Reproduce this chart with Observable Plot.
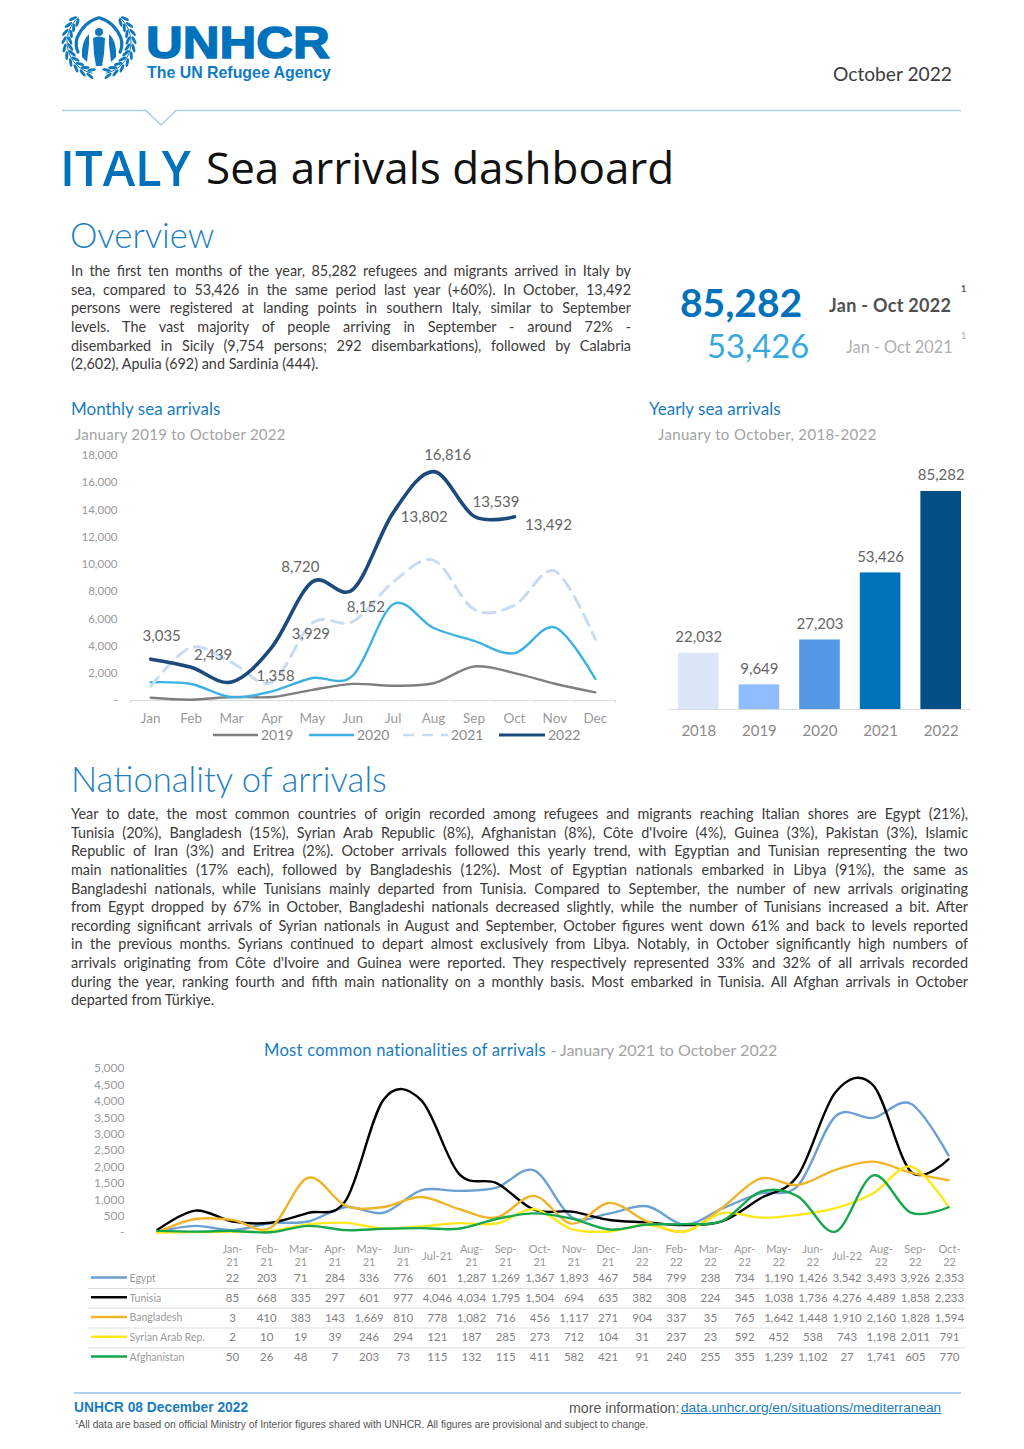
<!DOCTYPE html>
<html lang="en"><head><meta charset="utf-8">
<script src="https://cdn.jsdelivr.net/npm/d3@7"></script>
<script src="https://cdn.jsdelivr.net/npm/@observablehq/plot@0.6"></script>
<style>
html,body{margin:0;padding:0;background:#fff}
#page{position:relative;width:1024px;height:1449px;overflow:hidden;font-family:Lato,sans-serif;color:#3b3b3b}
.a{position:absolute;white-space:nowrap;line-height:1}
.h2{font-weight:300;font-size:34.7px;color:#1f7fbf}
.sub{font-size:17px;color:#1a7cc0}
.sub2{font-size:15px;letter-spacing:.25px;color:#a3a3a3}
.para{position:absolute;font-size:14.4px}
.para div{height:18.65px;line-height:18.65px;text-align:justify;text-align-last:justify;overflow:hidden}
.para div:last-child{text-align-last:left}
.chart{position:absolute}
.chart svg{display:block;overflow:visible}
.leg{position:absolute;top:728px;font-size:14px;color:#8a8a8a;line-height:14px}
.leg svg{position:absolute;left:0;top:6px;overflow:visible}
.leg span{position:absolute}
</style></head><body><div id="page">
<svg id="emblem" class="a" style="left:58px;top:10px" width="84" height="74" viewBox="0 0 84 74"></svg>
<div class="a" style="left:146px;top:25px;font:bold 45px 'Liberation Sans';color:#0072bc;-webkit-text-stroke:1.5px #0072bc;transform:scaleX(1.13);transform-origin:left top;line-height:36px">UNHCR</div>
<div class="a" style="left:147px;top:65px;font:bold 15.9px 'Liberation Sans';color:#0f7cc2;line-height:16px">The UN Refugee Agency</div>
<div class="a" style="left:833px;top:64px;font-size:19.2px;color:#3c3c3c">October 2022</div>
<svg class="a" style="left:0;top:100px" width="1024" height="30"><path d="M62 10.5H146L161 25L176 10.5H961" fill="none" stroke="#a9cfe6" stroke-width="1.6"/></svg>
<div class="a" style="left:60px;top:140px;font-family:'Open Sans';font-weight:600;font-size:49px;line-height:54px;color:#0072bc">ITALY</div>
<div class="a" style="left:206px;top:140px;font-family:'Open Sans';font-size:44px;line-height:54px;color:#111">Sea arrivals dashboard</div>
<div class="a h2" style="left:70px;top:218px">Overview</div>
<div class="para" id="p1" style="left:71px;top:262px;width:560px"></div>
<div class="a" style="left:680px;top:283px;font-size:39px;font-weight:700;color:#0072bc">85,282</div>
<div class="a" style="left:707px;top:330px;font-size:32.7px;color:#36a9de">53,426</div>
<div class="a" style="left:829px;top:296px;font-size:18px;letter-spacing:.3px;font-weight:700;color:#505050">Jan - Oct 2022</div>
<div class="a" style="left:846px;top:339px;font-size:16.3px;color:#b0b0b0">Jan - Oct 2021</div>
<div class="a" style="left:961px;top:284px;font-size:9px;font-weight:700;color:#555">1</div>
<div class="a" style="left:961px;top:331px;font-size:9px;color:#aaa">1</div>
<div class="a sub" style="left:71px;top:400px">Monthly sea arrivals</div>
<div class="a sub2" style="left:75px;top:427px">January 2019 to October 2022</div>
<div class="a sub" style="left:649px;top:400px">Yearly sea arrivals</div>
<div class="a sub2" style="left:658px;top:427px;letter-spacing:.35px">January to October, 2018-2022</div>
<div class="chart" id="monthly" style="left:60px;top:445px"></div>
<div class="chart" id="yearly" style="left:640px;top:470px"></div>
<div id="legend"></div>
<div class="a h2" style="left:71px;top:762px">Nationality of arrivals</div>
<div class="para" id="p2" style="left:71px;top:805px;width:897px"></div>
<div class="a" style="left:264px;top:1042px;font-size:16.6px;letter-spacing:.25px;color:#1a7cc0">Most common nationalities of arrivals <span style="color:#a3a3a3;font-size:16px;letter-spacing:0">- January 2021 to October 2022</span></div>
<div class="chart" id="natl" style="left:60px;top:1060px"></div>
<div class="chart" id="swatches" style="left:91px;top:1240px"></div>
<div class="chart" id="table" style="left:88px;top:1240px"></div>
<svg class="a" style="left:0;top:1390px" width="1024" height="6"><line x1="74" x2="961" y1="3" y2="3" stroke="#93c3e2" stroke-width="1.5"/></svg>
<div class="a" style="left:74px;top:1400px;font:bold 13.8px 'Liberation Sans';color:#1a7cc0">UNHCR 08 December 2022</div>
<div class="a" style="left:569px;top:1400px;font:14.2px 'Liberation Sans';color:#555">more information:</div>
<div class="a" style="left:681px;top:1400px;font:13.7px 'Liberation Sans';color:#1a7cc0;text-decoration:underline">data.unhcr.org/en/situations/mediterranean</div>
<div class="a" style="left:75px;top:1419px;font:10.3px 'Liberation Sans';color:#555"><sup style="font-size:6px">1</sup>All data are based on official Ministry of Interior figures shared with UNHCR. All figures are provisional and subject to change.</div>
</div>
<script>
// ---------- text ----------
const overviewLines = [
"In the first ten months of the year, 85,282 refugees and migrants arrived in Italy by",
"sea, compared to 53,426 in the same period last year (+60%). In October, 13,492",
"persons were registered at landing points in southern Italy, similar to September",
"levels. The vast majority of people arriving in September - around 72% -",
"disembarked in Sicily (9,754 persons; 292 disembarkations), followed by Calabria",
"(2,602), Apulia (692) and Sardinia (444)."];
const nationalityLines = [
"Year to date, the most common countries of origin recorded among refugees and migrants reaching Italian shores are Egypt (21%),",
"Tunisia (20%), Bangladesh (15%), Syrian Arab Republic (8%), Afghanistan (8%), Côte d'Ivoire (4%), Guinea (3%), Pakistan (3%), Islamic",
"Republic of Iran (3%) and Eritrea (2%). October arrivals followed this yearly trend, with Egyptian and Tunisian representing the two",
"main nationalities (17% each), followed by Bangladeshis (12%). Most of Egyptian nationals embarked in Libya (91%), the same as",
"Bangladeshi nationals, while Tunisians mainly departed from Tunisia. Compared to September, the number of new arrivals originating",
"from Egypt dropped by 67% in October, Bangladeshi nationals decreased slightly, while the number of Tunisians increased a bit. After",
"recording significant arrivals of Syrian nationals in August and September, October figures went down 61% and back to levels reported",
"in the previous months. Syrians continued to depart almost exclusively from Libya. Notably, in October significantly high numbers of",
"arrivals originating from Côte d'Ivoire and Guinea were reported. They respectively represented 33% and 32% of all arrivals recorded",
"during the year, ranking fourth and fifth main nationality on a monthly basis. Most embarked in Tunisia. All Afghan arrivals in October",
"departed from Türkiye."];

// ---------- monthly sea arrivals ----------
const months = ["Jan","Feb","Mar","Apr","May","Jun","Jul","Aug","Sep","Oct","Nov","Dec"];
const arrivals2019 = [202,60,262,255,782,1218,1088,1268,2498,2016,1232,600];
const arrivals2020 = [1342,1211,241,671,1654,1831,7067,5326,4387,3477,5368,1587];
const arrivals2021 = [1039,3900,2800,1350,5700,5800,8700,10300,6700,7000,9500,4500];
const arrivals2022 = [3035,2439,1358,3929,8720,8152,13802,16816,13539,13492];
const monthlyYears = ["2019","2020","2021","2022"];

// ---------- yearly sea arrivals ----------
const years = ["2018","2019","2020","2021","2022"];
const yearTotals = [22032,9649,27203,53426,85282];

// ---------- nationalities ----------
const periods = ["Jan-21","Feb-21","Mar-21","Apr-21","May-21","Jun-21","Jul-21","Aug-21","Sep-21","Oct-21","Nov-21","Dec-21","Jan-22","Feb-22","Mar-22","Apr-22","May-22","Jun-22","Jul-22","Aug-22","Sep-22","Oct-22"];
const natNames = ["Egypt","Tunisia","Bangladesh","Syrian Arab Rep.","Afghanistan"];
const egypt = [22,203,71,284,336,776,601,1287,1269,1367,1893,467,584,799,238,734,1190,1426,3542,3493,3926,2353];
const tunisia = [85,668,335,297,601,977,4046,4034,1795,1504,694,635,382,308,224,345,1038,1736,4276,4489,1858,2233];
const bangladesh = [3,410,383,143,1669,810,778,1082,716,456,1117,271,904,337,35,765,1642,1448,1910,2160,1828,1594];
const syria = [2,10,19,39,246,294,121,187,285,273,712,104,31,237,23,592,452,538,743,1198,2011,791];
const afghanistan = [50,26,48,7,203,73,115,132,115,411,582,421,91,240,255,355,1239,1102,27,1741,605,770];

const fmt = d3.format(",");
const tick0 = d => d === 0 ? "-" : fmt(d);
const excelCurve = d3.curveCatmullRom.alpha(0);
const fill = (id, lines) => d3.select(id).selectAll("div").data(lines).join("div").text(d => d);
fill("#p1", overviewLines); fill("#p2", nationalityLines);

// Monthly chart
const monthlyRows = (year, vals) => vals.map((v, i) => ({year, month: months[i], v}));
const m19 = monthlyRows("2019", arrivals2019), m20 = monthlyRows("2020", arrivals2020),
      m21 = monthlyRows("2021", arrivals2021), m22 = monthlyRows("2022", arrivals2022);
const mLine = (rows, stroke, w, extra = {}) => Plot.line(rows, {x: "month", y: "v", stroke, strokeWidth: w, curve: excelCurve, ...extra});
const mLabel = (i, dx, dy) => Plot.text([m22[i]], {x: "month", y: "v", text: d => fmt(d.v), dx, dy, fontSize: 15, fill: "#666"});
const monthlyColors = ["#7f7f7f", "#3db2e1", "#c9dbf3", "#1c4a7d"];
document.getElementById("monthly").append(Plot.plot({
  width: 555, height: 285, marginLeft: 70, marginRight: 0, marginTop: 10, marginBottom: 30,
  style: {fontFamily: "Lato", background: "transparent", overflow: "visible"},
  x: {type: "band", domain: months, padding: 0, round: false, label: null},
  y: {domain: [0, 18000], label: null},
  marks: [
    Plot.ruleY([0], {stroke: "#dcdcdc"}),
    Plot.ruleX(months, {x: d => d, dx: -20.2, y1: 0, y2: -180, stroke: "#dcdcdc"}),
    Plot.ruleX(["Dec"], {x: d => d, dx: 20.2, y1: 0, y2: -180, stroke: "#dcdcdc"}),
    Plot.axisY({ticks: d3.range(0, 18001, 2000), tickFormat: tick0, tickSize: 0, tickPadding: 13, label: null, fontSize: 11.5, fill: "#9a9a9a"}),
    Plot.axisX({tickSize: 0, tickPadding: 13, label: null, fontSize: 13.5, fill: "#9a9a9a"}),
    mLine(m19, monthlyColors[0], 2.4),
    mLine(m20, monthlyColors[1], 2.4),
    mLine(m21, monthlyColors[2], 3, {strokeDasharray: "12,8"}),
    mLine(m22, monthlyColors[3], 3.6),
    mLabel(0, 11, -23), mLabel(1, 22, -12), mLabel(2, 44, -6), mLabel(3, 39, -13), mLabel(4, -12, -15),
    mLabel(5, 13, 18), mLabel(6, 31, 5), mLabel(7, 14, -16), mLabel(8, 22, -14), mLabel(9, 34, 8)
  ]
}));

// Monthly legend
const legendLeft = [213, 309, 403, 499], legendText = [261, 357, 451, 548];
monthlyYears.forEach((y, i) => {
  const el = d3.select("#legend").append("div").attr("class", "leg").style("left", legendLeft[i] + "px");
  const len = legendText[i] - legendLeft[i] - 3;
  el.append("svg").attr("width", len).attr("height", 3).append("line").attr("x2", len).attr("y1", 1).attr("y2", 1)
    .attr("stroke", monthlyColors[i]).attr("stroke-width", i === 3 ? 3.2 : 2.6).attr("stroke-dasharray", i === 2 ? "11,8" : null);
  el.append("span").style("left", (len + 3) + "px").text(y);
});

// Yearly chart
const yearly = years.map((year, i) => ({year, v: yearTotals[i]}));
document.getElementById("yearly").append(Plot.plot({
  width: 331, height: 271, marginLeft: 28, marginRight: 0, marginTop: 21, marginBottom: 32,
  style: {fontFamily: "Lato", background: "transparent", overflow: "visible"},
  x: {domain: years, paddingInner: 0.33, paddingOuter: 0.165, round: false, label: null},
  y: {domain: [0, 85282], axis: null},
  color: {domain: years, range: ["#dbe7f8", "#8fbdff", "#5599e5", "#0072bc", "#044f85"]},
  marks: [
    Plot.barY(yearly, {x: "year", y: "v", fill: "year"}),
    Plot.ruleY([0], {stroke: "#dcdcdc"}),
    Plot.axisX({tickSize: 0, tickPadding: 16, label: null, fontSize: 15, fill: "#8a8a8a"}),
    Plot.text(yearly, {x: "year", y: "v", text: d => fmt(d.v), dy: -16, fontSize: 15, fill: "#666"})
  ]
}));

// Nationality lines
const natSeries = [egypt, tunisia, bangladesh, syria, afghanistan];
const natColors = ["#6aa0d4", "#000000", "#f0b429", "#ffe81a", "#17a84f"];
const natRows = natNames.flatMap((name, s) => periods.map((period, i) => ({name, period, v: natSeries[s][i]})));
const natColor = {domain: natNames, range: natColors};
document.getElementById("natl").append(Plot.plot({
  width: 900, height: 180, marginLeft: 97, marginRight: 12, marginTop: 8, marginBottom: 8,
  style: {fontFamily: "Lato", background: "transparent", overflow: "visible"},
  x: {type: "point", domain: periods, padding: 0, round: false, axis: null},
  y: {domain: [0, 5000], label: null},
  color: natColor,
  marks: [
    Plot.axisY({ticks: d3.range(0, 5001, 500), tickFormat: tick0, tickSize: 0, tickPadding: 33, label: null, fontSize: 12, fill: "#9a9a9a"}),
    ...natNames.map(name => Plot.line(natRows.filter(d => d.name === name), {x: "period", y: "v", stroke: "name", strokeWidth: 2.4, curve: excelCurve}))
  ]
}));

// Table under the nationality chart
const tableY = {type: "point", domain: natNames, range: [38, 117], padding: 0, round: false};
document.getElementById("swatches").append(Plot.plot({
  width: 36, height: 130, margin: 0,
  style: {background: "transparent", overflow: "visible"},
  x: {domain: [0, 1], axis: null}, y: {...tableY, axis: null}, color: natColor,
  marks: [Plot.ruleY(natNames, {y: d => d, x1: 0, x2: 1, stroke: d => d, strokeWidth: 2.4, dy: -1})]
}));
document.getElementById("table").append(Plot.plot({
  width: 878, height: 130, margin: 0,
  style: {fontFamily: "Lato", background: "transparent", overflow: "visible"},
  x: {type: "point", domain: periods, range: [144, 861], padding: 0, round: false, axis: null},
  y: {...tableY, axis: null},
  marks: [
    Plot.ruleY(natNames.slice(0, -1), {y: d => d, dy: 10, stroke: "#dedede"}),
    Plot.text(natNames, {y: d => d, frameAnchor: "left", dx: 41, text: d => d, textAnchor: "start", fontSize: 10.5, fill: "#9a9a9a"}),
    Plot.text(periods, {x: d => d, y: () => natNames[0], dy: -23, text: d => d.startsWith("Jul") ? d : d.replace("-", "-\n"), lineHeight: 1.15, fontSize: 11, fill: "#9a9a9a"}),
    Plot.text(natRows, {x: "period", y: "name", text: d => fmt(d.v), fontSize: 11.5, fill: "#7f7f7f"})
  ]
}));

// UNHCR emblem: laurel branches, sheltering hands, people
const em = d3.select("#emblem").append("g").attr("fill", "#0f78bc");
const cx = 41, cy = 32, R = 32;
[-1, 1].forEach(side => {
  const stem = d3.range(12, 148, 8).map(t => [cx + side * R * Math.sin(t * Math.PI / 180), cy + R * Math.cos(t * Math.PI / 180)]);
  em.append("path").attr("fill", "none").attr("stroke", "#0f78bc").attr("stroke-width", 1).attr("d", d3.line()(stem));
  d3.range(15, 145, 13).forEach(t => [-1, 1].forEach(o => {
    const th = t * Math.PI / 180, r = R + o * 3;
    const x = cx + side * r * Math.sin(th), y = cy + r * Math.cos(th);
    const ang = Math.atan2(-Math.sin(th), side * Math.cos(th)) * 180 / Math.PI + side * o * -25;
    em.append("ellipse").attr("cx", x).attr("cy", y).attr("rx", 4.4).attr("ry", 1.5).attr("transform", `rotate(${ang} ${x} ${y})`);
  }));
  const m = s => s.replace(/(-?\d+) (\d+)/g, (_, a, b) => `${side < 0 ? a : 82 - a} ${b}`);
  em.append("path").attr("fill", "none").attr("stroke", "#0f78bc").attr("stroke-width", 3.2).attr("stroke-linecap", "round").attr("d", m("M40 8 Q26 12 19 28 Q17 36 20 42"));
  em.append("path").attr("d", m("M31 24 Q23 31 24 47 L29 52 L31 34 Z"));
});
em.append("circle").attr("cx", 41).attr("cy", 22).attr("r", 4);
em.append("path").attr("d", "M35 28Q41 25 47 28L46 44L44 56H38L36 44Z");
</script>
</body></html>
